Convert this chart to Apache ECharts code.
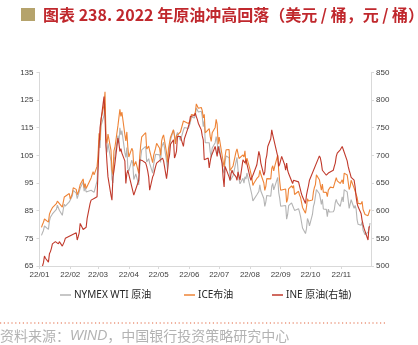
<!DOCTYPE html>
<html><head><meta charset="utf-8">
<script src="https://cdn.jsdelivr.net/npm/echarts@6/dist/echarts.min.js"></script>
<style>html,body{margin:0;padding:0;background:#fff}#c{width:418px;height:345px}</style>
</head><body><div id="c"></div>
<script>
// ---- data ----
const usDates = ['01-03','01-04','01-05','01-06','01-07','01-10','01-11','01-12','01-13','01-14','01-18','01-19','01-20','01-21','01-24','01-25','01-26','01-27','01-28','01-31',
'02-01','02-02','02-03','02-04','02-07','02-08','02-09','02-10','02-11','02-14','02-15','02-16','02-17','02-18','02-22','02-23','02-24','02-25','02-28',
'03-01','03-02','03-03','03-04','03-07','03-08','03-09','03-10','03-11','03-14','03-15','03-16','03-17','03-18','03-21','03-22','03-23','03-24','03-25','03-28','03-29','03-30','03-31',
'04-01','04-04','04-05','04-06','04-07','04-08','04-11','04-12','04-13','04-14','04-18','04-19','04-20','04-21','04-22','04-25','04-26','04-27','04-28','04-29',
'05-02','05-03','05-04','05-05','05-06','05-09','05-10','05-11','05-12','05-13','05-16','05-17','05-18','05-19','05-20','05-23','05-24','05-25','05-26','05-27','05-31',
'06-01','06-02','06-03','06-06','06-07','06-08','06-09','06-10','06-13','06-14','06-15','06-16','06-17','06-21','06-22','06-23','06-24','06-27','06-28','06-29','06-30',
'07-01','07-05','07-06','07-07','07-08','07-11','07-12','07-13','07-14','07-15','07-18','07-19','07-20','07-21','07-22','07-25','07-26','07-27','07-28','07-29',
'08-01','08-02','08-03','08-04','08-05','08-08','08-09','08-10','08-11','08-12','08-15','08-16','08-17','08-18','08-19','08-22','08-23','08-24','08-25','08-26','08-29','08-30','08-31',
'09-01','09-02','09-06','09-07','09-08','09-09','09-12','09-13','09-14','09-15','09-16','09-19','09-20','09-21','09-22','09-23','09-26','09-27','09-28','09-29','09-30',
'10-03','10-04','10-05','10-06','10-07','10-10','10-11','10-12','10-13','10-14','10-17','10-18','10-19','10-20','10-21','10-24','10-25','10-26','10-27','10-28','10-31',
'11-01','11-02','11-03','11-04','11-07','11-08','11-09','11-10','11-11','11-14','11-15','11-16','11-17','11-18','11-21','11-22','11-23','11-25','11-28','11-29','11-30'];

const wti = [76.08,76.99,77.85,79.46,78.90,78.23,81.22,82.64,82.12,83.82,85.43,86.96,86.90,85.14,83.31,85.60,87.35,86.61,86.82,88.15,
88.20,88.26,90.27,92.31,91.32,89.36,89.66,89.88,93.10,95.46,92.07,93.66,91.76,91.07,92.35,92.10,92.81,91.59,95.72,
103.41,110.60,107.67,115.68,119.40,123.70,108.70,106.02,109.33,103.01,96.44,95.04,102.98,104.70,112.12,109.27,114.93,112.34,113.90,105.96,104.24,107.82,100.28,
99.27,103.28,101.96,96.23,96.03,98.26,94.29,100.60,104.25,106.95,108.21,102.56,102.75,103.79,102.07,98.54,101.70,102.02,105.36,104.69,
105.17,102.41,107.81,108.26,109.77,103.09,99.76,105.71,106.13,110.49,114.20,112.40,109.59,112.21,113.23,110.29,109.77,110.33,114.09,115.07,114.67,
115.26,116.87,118.87,118.50,119.41,122.11,121.51,120.67,120.93,118.93,115.31,117.59,109.56,109.52,106.19,104.27,107.62,109.57,111.76,109.78,105.76,
108.43,99.50,98.53,102.73,104.79,104.09,95.84,96.30,95.78,97.59,102.60,104.22,99.88,96.35,94.70,96.70,94.98,97.26,96.42,98.62,
93.89,94.42,90.66,88.54,89.01,90.76,90.50,91.93,94.34,92.09,89.41,86.53,88.11,90.50,90.77,90.23,93.74,94.89,92.52,93.06,97.01,91.64,89.55,
86.61,86.87,86.88,81.94,83.54,86.79,87.78,87.31,88.48,85.10,85.11,85.73,84.45,82.94,83.49,78.74,76.71,78.50,82.15,81.23,79.49,
83.63,86.52,87.76,88.45,92.64,91.13,89.35,87.27,89.11,85.61,85.46,82.82,85.55,84.51,85.05,84.58,85.32,87.91,89.08,87.90,86.53,
88.37,90.00,88.17,92.61,91.79,88.91,85.83,86.47,88.96,85.87,86.92,85.59,81.64,80.08,79.73,80.95,77.94,76.28,77.24,78.20,80.55];

const brent = [78.98,80.00,80.80,81.99,81.75,80.87,83.72,84.67,84.47,86.06,87.51,88.44,88.38,87.89,86.27,88.20,89.96,89.34,90.03,91.21,
89.16,89.47,91.11,93.27,92.69,90.78,91.55,91.41,94.44,96.48,93.28,94.81,92.97,93.54,96.84,96.84,99.08,97.93,100.99,
104.97,112.93,110.46,118.11,123.21,127.98,111.14,109.33,112.67,106.90,99.91,98.02,106.64,107.93,115.62,115.48,121.60,119.03,120.65,112.48,110.23,113.45,107.91,
104.39,107.53,106.64,101.07,100.58,102.78,98.48,104.64,108.78,111.70,113.16,107.25,106.80,108.33,106.65,102.32,104.99,105.32,107.59,109.34,
107.58,104.97,110.14,111.55,112.39,105.94,102.46,107.51,107.45,111.55,114.24,111.93,109.11,112.04,112.55,113.42,113.56,114.03,117.40,118.00,116.50,
116.29,117.61,119.72,119.51,120.57,123.58,123.07,122.01,122.27,121.17,118.51,119.81,113.12,114.65,111.74,110.05,113.12,115.09,117.98,116.26,109.03,
111.63,102.77,100.69,104.65,107.02,107.10,99.49,99.57,99.10,101.16,106.27,107.35,106.92,103.86,103.20,105.15,104.40,106.62,101.67,103.97,
100.03,100.54,96.78,94.12,94.92,96.65,96.31,97.40,99.60,98.15,95.10,92.34,93.65,96.59,96.72,96.48,100.22,101.22,99.34,100.99,105.09,99.31,95.64,
92.36,93.02,92.83,88.00,89.15,92.84,94.00,93.17,94.10,90.84,91.35,92.00,90.62,89.83,90.46,86.15,84.06,86.27,89.32,88.49,87.96,
88.86,91.80,93.37,94.42,97.92,96.19,94.29,92.45,94.57,91.63,91.62,90.03,92.41,92.38,93.50,93.26,93.52,95.69,96.96,95.77,94.83,
94.65,96.16,94.67,98.57,97.92,95.36,92.65,93.67,95.99,93.14,93.86,92.86,89.78,87.62,87.45,88.36,85.41,83.63,83.19,83.03,85.43];

const ineDates = ['01-04','01-05','01-06','01-07','01-10','01-11','01-12','01-13','01-14','01-17','01-18','01-19','01-20','01-21','01-24','01-25','01-26','01-27','01-28',
'02-07','02-08','02-09','02-10','02-11','02-14','02-15','02-16','02-17','02-18','02-21','02-22','02-23','02-24','02-25','02-28',
'03-01','03-02','03-03','03-04','03-07','03-08','03-09','03-10','03-11','03-14','03-15','03-16','03-17','03-18','03-21','03-22','03-23','03-24','03-25','03-28','03-29','03-30','03-31',
'04-01','04-06','04-07','04-08','04-11','04-12','04-13','04-14','04-15','04-18','04-19','04-20','04-21','04-22','04-25','04-26','04-27','04-28','04-29',
'05-05','05-06','05-09','05-10','05-11','05-12','05-13','05-16','05-17','05-18','05-19','05-20','05-23','05-24','05-25','05-26','05-27','05-30','05-31',
'06-01','06-02','06-06','06-07','06-08','06-09','06-10','06-13','06-14','06-15','06-16','06-17','06-20','06-21','06-22','06-23','06-24','06-27','06-28','06-29','06-30',
'07-01','07-04','07-05','07-06','07-07','07-08','07-11','07-12','07-13','07-14','07-15','07-18','07-19','07-20','07-21','07-22','07-25','07-26','07-27','07-28','07-29',
'08-01','08-02','08-03','08-04','08-05','08-08','08-09','08-10','08-11','08-12','08-15','08-16','08-17','08-18','08-19','08-22','08-23','08-24','08-25','08-26','08-29','08-30','08-31',
'09-01','09-02','09-05','09-06','09-07','09-08','09-09','09-13','09-14','09-15','09-16','09-19','09-20','09-21','09-22','09-23','09-26','09-27','09-28','09-29','09-30',
'10-10','10-11','10-12','10-13','10-14','10-17','10-18','10-19','10-20','10-21','10-24','10-25','10-26','10-27','10-28','10-31',
'11-01','11-02','11-03','11-04','11-07','11-08','11-09','11-10','11-11','11-14','11-15','11-16','11-17','11-18','11-21','11-22','11-23','11-24','11-25','11-28','11-29','11-30'];

const ine = [500,506,518,514,507,522,526,532,540,544,541,547,540,544,536,540,544,550,550,
560,547,553,560,577,566,568,565,570,586,613,619,616,622,622,625,
673,716,750,764,806,770,716,686,661,628,619,661,672,686,731,722,707,712,704,690,649,667,673,
670,628,625,625,655,692,695,695,690,686,680,672,661,637,661,665,673,680,686,
695,690,658,672,692,700,720,728,695,700,707,734,734,728,722,716,730,746,746,
758,770,772,776,770,765,758,746,735,728,692,692,695,677,689,698,698,716,707,698,716,
716,686,660,643,680,680,661,655,667,673,668,661,655,670,670,655,692,690,686,692,692,
661,655,660,664,667,683,695,707,700,686,664,670,692,700,716,730,746,737,740,734,698,680,684,
686,698,683,673,686,673,667,649,655,658,655,652,649,637,630,625,613,628,637,645,655,
699,695,686,673,670,664,664,668,670,667,673,680,686,698,704,710,
713,716,716,713,690,680,673,667,660,655,643,625,613,607,595,583,575,568,565,547,571,571];

const leftTicks = [65,75,85,95,105,115,125,135];
const rightTicks = [500,550,600,650,700,750,800,850];
const monthTicks = ['01-01','02-01','03-01','04-01','05-01','06-01','07-01','08-01','09-01','10-01','11-01'];
const monthLabels = ['22/01','22/02','22/03','22/04','22/05','22/06','22/07','22/08','22/09','22/10','22/11'];
const seriesNames = ['NYMEX WTI 原油','ICE布油','INE 原油(右轴)'];

// ---- build ----
function ts(md){ const [m,d] = md.split('-').map(Number); return new Date(2022, m-1, d).getTime(); }
const pair = (ds, vs) => ds.map((d,i)=>[ts(d), vs[i]]);
const monthTs = monthTicks.map(ts);

const chart = echarts.init(document.getElementById('c'), null, {renderer:'canvas'});
const axisColor = '#d9d9d9';
const lblFont = {fontSize:8, color:'#404040', fontFamily:'Liberation Sans'};
const legendBase = {top:290, padding:0, itemWidth:11, itemHeight:1.5, icon:'rect', itemGap:5,
  textStyle:{fontSize:10, color:'#262626', fontFamily:'Noto Sans, Noto Sans CJK SC', padding:[0,0,0,-2]}};

chart.setOption({
  animation:false,
  grid:{left:39.5, right:47, top:72.3, bottom:79, containLabel:false},
  legend:[
    Object.assign({data:[seriesNames[0]], left:60}, legendBase),
    Object.assign({data:[seriesNames[1]], left:184}, legendBase),
    Object.assign({data:[seriesNames[2]], left:272}, legendBase)
  ],
  xAxis:{type:'value', min:ts('01-01'), max:ts('12-01'),
    axisLine:{lineStyle:{color:axisColor}},
    axisTick:{show:true, length:3, lineStyle:{color:axisColor}, customValues:monthTs},
    axisLabel:Object.assign({margin:5, customValues:monthTs,
      formatter:(v)=>{ const i = monthTs.indexOf(v); return i>=0 ? monthLabels[i] : ''; }}, lblFont),
    splitLine:{show:false}},
  yAxis:[
    {type:'value', min:65, max:135, position:'left',
      axisLine:{show:true, lineStyle:{color:axisColor}},
      axisTick:{show:true, length:3, lineStyle:{color:axisColor}, customValues:leftTicks},
      axisLabel:Object.assign({margin:6, customValues:leftTicks}, lblFont),
      splitLine:{show:false}},
    {type:'value', min:500, max:850, interval:50, position:'right',
      axisLine:{show:true, lineStyle:{color:axisColor}},
      axisTick:{show:true, length:3, lineStyle:{color:axisColor}, customValues:rightTicks},
      axisLabel:Object.assign({margin:5, customValues:rightTicks}, lblFont),
      splitLine:{show:false}}
  ],
  series:[
    {name:seriesNames[0], type:'line', data:pair(usDates, wti), showSymbol:false, symbol:'none',
      lineStyle:{width:1.1, color:'#b4b4b4'}, itemStyle:{color:'#b4b4b4'}},
    {name:seriesNames[1], type:'line', data:pair(usDates, brent), showSymbol:false, symbol:'none',
      lineStyle:{width:1.1, color:'#ee8437'}, itemStyle:{color:'#ee8437'}},
    {name:seriesNames[2], type:'line', yAxisIndex:1, data:pair(ineDates, ine), showSymbol:false, symbol:'none',
      lineStyle:{width:1.1, color:'#c0392b'}, itemStyle:{color:'#c0392b'}}
  ],
  graphic:[
    {type:'rect', shape:{x:21, y:8, width:14, height:13}, style:{fill:'#b5a36c'}},
    {type:'text', x:43, y:14.5, style:{text:'图表 238. 2022 年原油冲高回落（美元 / 桶，元 / 桶）',
      font:'bold 16px "Noto Sans CJK SC"', fill:'#c0282d', verticalAlign:'middle'}},
    {type:'line', shape:{x1:0, y1:323, x2:387, y2:323}, style:{stroke:'#e2643f', lineWidth:1.2, lineDash:[1.2,2.6]}},
    {type:'text', x:0, y:336, style:{text:'{a|资料来源：}{b|WIND}{a|，中国银行投资策略研究中心}', verticalAlign:'middle',
      rich:{a:{fontSize:14, fill:'#b3b3b3', fontFamily:'Noto Sans CJK SC'},
            b:{fontSize:14, fill:'#b3b3b3', fontStyle:'italic', fontFamily:'Liberation Sans'}}}}
  ]
});
</script></body></html>
